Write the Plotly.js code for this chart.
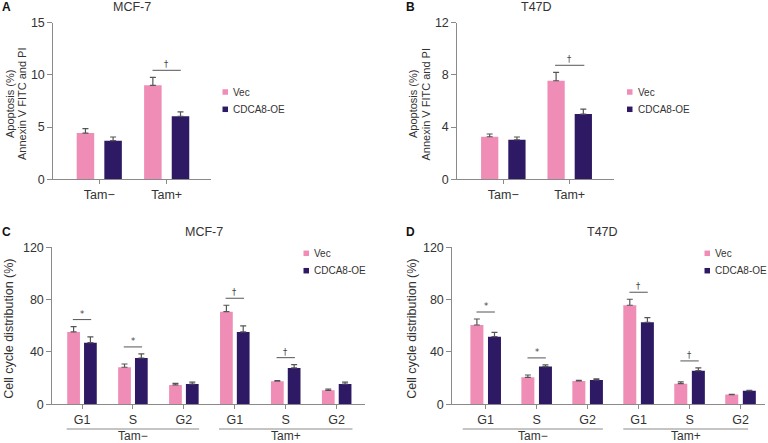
<!DOCTYPE html>
<html>
<head>
<meta charset="utf-8">
<script src="https://cdn.plot.ly/plotly-3.0.1.min.js"></script>
<style>
  body { margin: 0; background: #fff; }
  #chart { width: 768px; height: 443px; }
</style>
</head>
<body>
<div id="chart"></div>
<script>
// Apoptosis and cell cycle, Vec vs CDCA8-OE, with and without tamoxifen

const tamGroups = ['Tam\u2212', 'Tam+'];
const phases = ['G1', 'S', 'G2'];
const cycleKeys = tamGroups.flatMap((t) => phases.map((p) => t + ' ' + p));
const seriesNames = ['Vec', 'CDCA8-OE'];

// Panel A - MCF-7 apoptosis (%)
const apoMcfVec = [4.43, 9.0];
const apoMcfVecErr = [0.42, 0.77];
const apoMcfOe = [3.70, 6.03];
const apoMcfOeErr = [0.35, 0.42];
const apoMcfSig = ['', '\u2020'];

// Panel B - T47D apoptosis (%)
const apoT47Vec = [3.26, 7.55];
const apoT47VecErr = [0.21, 0.65];
const apoT47Oe = [3.03, 5.0];
const apoT47OeErr = [0.21, 0.38];
const apoT47Sig = ['', '\u2020'];

// Panel C - MCF-7 cell cycle (%)
const cycMcfVec = [55.3, 28.3, 14.8, 70.8, 17.6, 10.7];
const cycMcfVecErr = [4.1, 2.5, 1.2, 4.9, 0.5, 1.0];
const cycMcfOe = [47.1, 35.4, 15.5, 55.3, 27.8, 15.5];
const cycMcfOeErr = [4.4, 3.1, 1.5, 4.6, 2.5, 1.5];
const cycMcfSig = ['*', '*', '', '\u2020', '\u2020', ''];

// Panel D - T47D cell cycle (%)
const cycT47Vec = [60.6, 20.6, 17.8, 75.7, 15.8, 7.4];
const cycT47VecErr = [4.6, 1.8, 0.5, 4.6, 1.3, 0.3];
const cycT47Oe = [51.7, 28.8, 18.6, 62.7, 25.7, 10.4];
const cycT47OeErr = [3.3, 1.3, 0.8, 3.5, 2.1, 0.3];
const cycT47Sig = ['*', '*', '', '\u2020', '\u2020', ''];

const COLORS = ['#EF8DB6', '#2E1A64'];
const AXIS_COLOR = '#8a8a8a';
const TEXT_COLOR = '#333333';
const FONT = 'Liberation Sans, Arial, sans-serif';

const W = 768;
const H = 443;
const px = (x) => x / W;
const py = (y) => 1 - y / H;

// panel layout in pixels
const panels = [
    {
        id: '', letter: 'A', title: 'MCF-7', cats: tamGroups, ticks: tamGroups,
        vec: apoMcfVec, vecErr: apoMcfVecErr, oe: apoMcfOe, oeErr: apoMcfOeErr, sig: apoMcfSig,
        xdom: [53.3, 210.7], ydom: [22.7, 179.3], xrange: [-0.682, 1.653], ymax: 15, dtick: 5,
        barW: 0.26, barGap: 0.15, sigHalf: 0.21,
        ytitle: ['Apoptosis (%)', 'Annexin V FITC and PI'], ytitleX: [10, 22], ytitleSize: 11,
        letterX: 6, titleX: 131.7, titleY: 7,
        legendX: 222.5, legendY: [92, 109.3],
    },
    {
        id: '2', letter: 'B', title: 'T47D', cats: tamGroups, ticks: tamGroups,
        vec: apoT47Vec, vecErr: apoT47VecErr, oe: apoT47Oe, oeErr: apoT47OeErr, sig: apoT47Sig,
        xdom: [457.3, 614], ydom: [22.7, 179.3], xrange: [-0.693, 1.667], ymax: 12, dtick: 4,
        barW: 0.26, barGap: 0.15, sigHalf: 0.22,
        ytitle: ['Apoptosis (%)', 'Annexin V FITC and PI'], ytitleX: [413, 425.5], ytitleSize: 11,
        letterX: 410, titleX: 536.5, titleY: 7,
        legendX: 627, legendY: [92, 109.3],
    },
    {
        id: '3', letter: 'C', title: 'MCF-7', cats: cycleKeys, ticks: tamGroups.flatMap(() => phases),
        vec: cycMcfVec, vecErr: cycMcfVecErr, oe: cycMcfOe, oeErr: cycMcfOeErr, sig: cycMcfSig,
        xdom: [52.3, 365], ydom: [247.3, 404.3], xrange: [-0.583, 5.556], ymax: 120, dtick: 40,
        barW: 0.25, barGap: 0.08, sigHalf: 0.18,
        ytitle: ['Cell cycle distribution (%)'], ytitleX: [9], ytitleSize: 12.5,
        letterX: 6, titleX: 204, titleY: 232,
        legendX: 303.5, legendY: [253.3, 270.7],
        groupSpan: [[-0.3, 2.3], [2.69, 5.31]],
    },
    {
        id: '4', letter: 'D', title: 'T47D', cats: cycleKeys, ticks: tamGroups.flatMap(() => phases),
        vec: cycT47Vec, vecErr: cycT47VecErr, oe: cycT47Oe, oeErr: cycT47OeErr, sig: cycT47Sig,
        xdom: [452.3, 765], ydom: [247.3, 404.3], xrange: [-0.655, 5.48], ymax: 120, dtick: 40,
        barW: 0.255, barGap: 0.09, sigHalf: 0.18,
        ytitle: ['Cell cycle distribution (%)'], ytitleX: [412], ytitleSize: 12.5,
        letterX: 410, titleX: 602.5, titleY: 232,
        legendX: 704.5, legendY: [253.3, 270.7],
        groupSpan: [[-0.45, 2.3], [2.7, 5.15]],
    },
];

const traces = [];
const shapes = [];
const annotations = [];
const layout = {
    width: W,
    height: H,
    margin: { l: 0, r: 0, t: 0, b: 0 },
    paper_bgcolor: '#fff',
    plot_bgcolor: 'rgba(0,0,0,0)',
    font: { family: FONT, size: 12, color: TEXT_COLOR },
    barmode: 'overlay',
    showlegend: false,
};

function text(t, x, y, opts) {
    annotations.push({
        text: t, x: x, y: y, xref: 'paper', yref: 'paper', showarrow: false,
        xanchor: 'center', yanchor: 'middle', borderpad: 0,
        ...opts,
    });
}

for (let p of panels) {
    const xa = 'x' + p.id;
    const ya = 'y' + p.id;
    const series = [[p.vec, p.vecErr], [p.oe, p.oeErr]];
    const offsets = [-p.barW - p.barGap / 2, p.barGap / 2];

    series.forEach(([vals, errs], i) => {
        traces.push({
            type: 'bar',
            name: seriesNames[i],
            x: p.cats,
            y: vals,
            xaxis: xa,
            yaxis: ya,
            width: p.barW,
            offset: offsets[i],
            marker: { color: COLORS[i], line: { width: 0 } },
            error_y: {
                type: 'data', array: errs, arrayminus: errs.map(() => 0), symmetric: false,
                color: '#555', thickness: 1.2, width: 3,
            },
            hoverinfo: 'skip',
        });
    });

    layout['xaxis' + p.id] = {
        domain: [px(p.xdom[0]), px(p.xdom[1])],
        anchor: ya,
        type: 'category',
        categoryorder: 'array',
        categoryarray: p.cats,
        tickvals: p.cats,
        ticktext: p.ticks,
        range: p.xrange,
        showline: true, linecolor: AXIS_COLOR, linewidth: 1,
        ticks: 'outside', ticklen: 4, tickcolor: AXIS_COLOR,
        showgrid: false, zeroline: false, fixedrange: true,
        tickfont: { size: 12.5, color: TEXT_COLOR },
    };
    layout['yaxis' + p.id] = {
        domain: [py(p.ydom[1]), py(p.ydom[0])],
        anchor: xa,
        range: [0, p.ymax],
        dtick: p.dtick,
        showline: true, linecolor: AXIS_COLOR, linewidth: 1,
        ticks: 'outside', ticklen: 5, tickcolor: AXIS_COLOR,
        showgrid: false, zeroline: false, fixedrange: true,
        tickfont: { size: 12.5, color: TEXT_COLOR },
    };

    // significance bars, ~7px above the taller error bar
    const unit = p.ymax / (p.ydom[1] - p.ydom[0]);
    p.sig.forEach((s, k) => {
        if (!s) return;
        const top = Math.max(p.vec[k] + p.vecErr[k], p.oe[k] + p.oeErr[k]) + 7 * unit;
        shapes.push({
            type: 'line', xref: xa, yref: ya,
            x0: k - p.sigHalf, x1: k + p.sigHalf, y0: top, y1: top,
            line: { color: '#555', width: 1 },
        });
        annotations.push({
            text: s, xref: xa, yref: ya, x: k, y: top, xanchor: 'center', yanchor: 'bottom', yshift: -1,
            showarrow: false, font: { family: 'DejaVu Sans, sans-serif', size: 8.5, color: '#444' },
        });
    });

    // group underlines for cell cycle panels
    if (p.groupSpan) {
        p.groupSpan.forEach(([a, b], g) => {
            shapes.push({
                type: 'line', xref: xa, yref: 'paper',
                x0: a, x1: b, y0: py(429), y1: py(429),
                line: { color: AXIS_COLOR, width: 1 },
            });
            annotations.push({
                text: tamGroups[g], xref: xa, yref: 'paper', x: (a + b) / 2, y: py(435.5),
                xanchor: 'center', yanchor: 'middle', borderpad: 0,
                showarrow: false, font: { size: 12, color: TEXT_COLOR },
            });
        });
    }

    // panel letter and title
    text('<b>' + p.letter + '</b>', px(p.letterX), py(p.titleY), { font: { size: 12, color: '#111' } });
    text(p.title, px(p.titleX), py(p.titleY), { font: { size: 12.5, color: TEXT_COLOR } });

    // y axis title lines
    const yMid = (p.ydom[0] + p.ydom[1]) / 2 + 3;
    p.ytitle.forEach((t, k) => {
        text(t, px(p.ytitleX[k]), py(yMid), { textangle: -90, font: { size: p.ytitleSize, color: TEXT_COLOR } });
    });

    // legend
    seriesNames.forEach((name, i) => {
        const cy = p.legendY[i];
        shapes.push({
            type: 'rect', xref: 'paper', yref: 'paper',
            x0: px(p.legendX), x1: px(p.legendX + 5.5), y0: py(cy + 2.75), y1: py(cy - 2.75),
            fillcolor: COLORS[i], line: { width: 0 },
        });
        text(name, px(p.legendX + 9.5), py(cy), { xanchor: 'left', font: { size: 10, color: TEXT_COLOR } });
    });
}

layout.shapes = shapes;
layout.annotations = annotations;

Plotly.newPlot('chart', traces, layout, { displayModeBar: false, staticPlot: true });
</script>
</body>
</html>
